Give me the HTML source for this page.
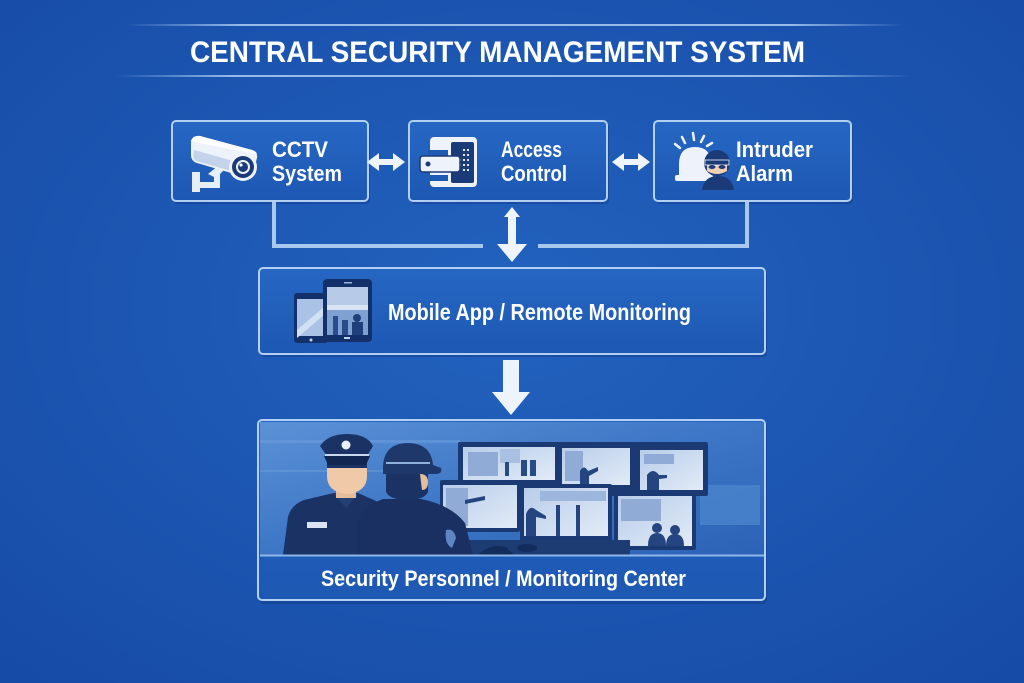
<!DOCTYPE html>
<html><head><meta charset="utf-8">
<style>
html,body{margin:0;padding:0;background:#1a54b0;}
svg{display:block;}
text{font-family:"Liberation Sans",sans-serif;font-weight:bold;fill:#ffffff;}
</style></head><body>
<svg width="1024" height="683" viewBox="0 0 1024 683" xmlns="http://www.w3.org/2000/svg">
<defs>
<radialGradient id="bg" cx="50%" cy="45%" r="75%">
 <stop offset="0" stop-color="#2262be"/>
 <stop offset="1" stop-color="#164ba6"/>
</radialGradient>
<linearGradient id="ln" x1="0" x2="1">
 <stop offset="0" stop-color="#a6c8f0" stop-opacity="0"/>
 <stop offset="0.15" stop-color="#a6c8f0" stop-opacity="0.9"/>
 <stop offset="0.85" stop-color="#a6c8f0" stop-opacity="0.9"/>
 <stop offset="1" stop-color="#a6c8f0" stop-opacity="0"/>
</linearGradient>
<linearGradient id="bx" x1="0" y1="0" x2="0" y2="1">
 <stop offset="0" stop-color="#2667c3"/>
 <stop offset="1" stop-color="#1d58b3"/>
</linearGradient>
<linearGradient id="scene" x1="0" y1="0" x2="1" y2="1">
 <stop offset="0" stop-color="#5b91d6"/>
 <stop offset="0.5" stop-color="#3d76c6"/>
 <stop offset="1" stop-color="#2b62b6"/>
</linearGradient>
<linearGradient id="scr" x1="0" y1="0" x2="1" y2="1">
 <stop offset="0" stop-color="#b8cdea"/>
 <stop offset="1" stop-color="#e2ebf7"/>
</linearGradient>
<clipPath id="sc"><rect x="260" y="422" width="504" height="133"/></clipPath>
</defs>

<rect width="1024" height="683" fill="url(#bg)"/>

<!-- Title -->
<rect x="125" y="24" width="780" height="2" fill="url(#ln)"/>
<rect x="115" y="75" width="795" height="2" fill="url(#ln)"/>
<text x="190" y="62" font-size="30" textLength="615" lengthAdjust="spacingAndGlyphs">CENTRAL SECURITY MANAGEMENT SYSTEM</text>

<!-- shadows -->
<g fill="#0f3a86" opacity="0.45">
<rect x="174" y="124" width="196" height="80" rx="4"/>
<rect x="411" y="124" width="198" height="80" rx="4"/>
<rect x="656" y="124" width="197" height="80" rx="4"/>
<rect x="261" y="271" width="506" height="86" rx="4"/>
<rect x="260" y="423" width="507" height="181" rx="4"/>
</g>

<!-- Top boxes -->
<rect x="172" y="121" width="196" height="80" rx="4" fill="url(#bx)" stroke="#b3d0f2" stroke-width="2"/>
<rect x="409" y="121" width="198" height="80" rx="4" fill="url(#bx)" stroke="#b3d0f2" stroke-width="2"/>
<rect x="654" y="121" width="197" height="80" rx="4" fill="url(#bx)" stroke="#b3d0f2" stroke-width="2"/>

<text x="272" y="157" font-size="22" textLength="56" lengthAdjust="spacingAndGlyphs">CCTV</text>
<text x="272" y="181" font-size="22" textLength="70" lengthAdjust="spacingAndGlyphs">System</text>
<text x="501" y="157" font-size="22" textLength="61" lengthAdjust="spacingAndGlyphs">Access</text>
<text x="501" y="181" font-size="22" textLength="66" lengthAdjust="spacingAndGlyphs">Control</text>
<text x="736" y="157" font-size="22" textLength="77" lengthAdjust="spacingAndGlyphs">Intruder</text>
<text x="736" y="181" font-size="22" textLength="57" lengthAdjust="spacingAndGlyphs">Alarm</text>

<!-- CCTV icon -->
<g>
 <path d="M192 172 h8 v10 h14 v-10 h6 v16 h-20 v4 h-8 z" fill="#e6eef9"/>
 <path d="M208 174 l10 -8 l6 4 l-8 8 z" fill="#e6eef9"/>
 <path d="M191 141 q2 -6 9 -5 l52 14 q6 2 5 8 l-4 14 q-2 6 -8 5 l-48 -14 q-6 -2 -6 -8 z" fill="#eef3fb"/>
 <path d="M194 150 l50 14 l-2 10 l-46 -13 q-4 -2 -2 -11 z" fill="#c3d3ea"/>
 <path d="M191 141 q2 -6 9 -5 l52 14 q4 1 5 4 l-58 -11 z" fill="#ffffff"/>
 <circle cx="243" cy="167" r="14" fill="#eef3fb"/>
 <circle cx="243" cy="167" r="11" fill="#1b3a78"/>
 <circle cx="243" cy="167" r="7" fill="#eef3fb"/>
 <circle cx="243" cy="167" r="5" fill="#1b3a78"/>
 <circle cx="241" cy="165" r="1.6" fill="#ffffff"/>
</g>

<!-- Access icon -->
<g>
 <rect x="430" y="137" width="47" height="50" rx="4" fill="#eef3fb"/>
 <rect x="451" y="142" width="23" height="41" rx="2" fill="#1b3a78"/>
 <g fill="#dfe8f6">
  <rect x="463" y="149" width="2" height="2"/><rect x="467" y="149" width="2" height="2"/>
  <rect x="463" y="154" width="2" height="2"/><rect x="467" y="154" width="2" height="2"/>
  <rect x="459" y="159" width="2" height="2"/><rect x="463" y="159" width="2" height="2"/><rect x="467" y="159" width="2" height="2"/>
  <rect x="459" y="164" width="2" height="2"/><rect x="463" y="164" width="2" height="2"/><rect x="467" y="164" width="2" height="2"/>
  <rect x="463" y="169" width="2" height="2"/><rect x="467" y="169" width="2" height="2"/>
 </g>
 <rect x="428" y="150" width="20" height="6" fill="#1d5ab4"/>
 <rect x="420" y="156" width="40" height="16" rx="3" fill="#eef3fb" stroke="#1b3a78" stroke-width="1.5"/>
 <circle cx="428" cy="164" r="2.5" fill="#1b3a78"/>
 <rect x="430" y="175" width="18" height="6" fill="#1d5ab4"/>
</g>

<!-- Intruder icon -->
<g>
 <g stroke="#eef3fb" stroke-width="2.5" stroke-linecap="round">
  <line x1="693" y1="133" x2="694" y2="140"/>
  <line x1="682" y1="137" x2="685" y2="143"/>
  <line x1="675" y1="144" x2="680" y2="148"/>
  <line x1="704" y1="136" x2="701" y2="142"/>
  <line x1="712" y1="143" x2="707" y2="146"/>
 </g>
 <path d="M679 176 v-12 q0 -17 16 -17 q16 0 16 17 v12 z" fill="#eef3fb"/>
 <rect x="675" y="175" width="38" height="6" rx="2" fill="#eef3fb"/>
 <path d="M702 190 q2 -14 16 -14 q14 0 16 14 z" fill="#1b3a78"/>
 <circle cx="717" cy="163" r="13" fill="#1b3a78"/>
 <path d="M707 165 q10 -4 20 0 v6 q-10 6 -20 0 z" fill="#f0d0b4"/>
 <rect x="705" y="160" width="24" height="5" fill="#1b3a78" stroke="#eef3fb" stroke-width="0.8"/>
 <ellipse cx="712" cy="167" rx="3.5" ry="2" fill="#1b3a78"/>
 <ellipse cx="722" cy="167" rx="3.5" ry="2" fill="#1b3a78"/>
</g>

<!-- Horizontal double arrows -->
<g fill="#eef4fc">
 <path d="M367 162 l12 -9 v6 h14 v-6 l12 9 l-12 9 v-6 h-14 v6 z"/>
 <path d="M612 162 l12 -9 v6 h14 v-6 l12 9 l-12 9 v-6 h-14 v6 z"/>
</g>

<!-- Connectors -->
<g fill="none" stroke="#a9c8ee" stroke-width="4">
 <polyline points="274,202 274,246 483,246"/>
 <polyline points="747,202 747,246 538,246"/>
</g>
<path d="M512 207 l8 10 h-4 v27 h11 l-15 18 l-15 -18 h11 v-27 h-4 z" fill="#eef4fc"/>

<!-- Mobile box -->
<rect x="259" y="268" width="506" height="86" rx="4" fill="url(#bx)" stroke="#b3d0f2" stroke-width="2"/>
<g>
 <rect x="294" y="293" width="34" height="50" rx="3" fill="#14306a"/>
 <rect x="297" y="299" width="28" height="37" fill="#a9c2e6"/>
 <path d="M297 330 l28 -24 v8 l-28 24 z" fill="#d2e0f3"/>
 <circle cx="311" cy="340" r="1.5" fill="#c0d2ec"/>
 <rect x="323" y="279" width="49" height="63" rx="4" fill="#14306a"/>
 <rect x="327" y="287" width="41" height="48" fill="#7fa1d2"/>
 <rect x="327" y="287" width="41" height="18" fill="#b7cbe9"/>
 <rect x="327" y="305" width="41" height="5" fill="#d8e4f3"/>
 <rect x="333" y="316" width="5" height="19" fill="#2b4c8a"/>
 <rect x="342" y="320" width="6" height="15" fill="#2b4c8a"/>
 <circle cx="357" cy="318" r="4" fill="#1f3f7a"/>
 <rect x="352" y="322" width="11" height="13" fill="#1f3f7a"/>
 <rect x="344" y="282" width="8" height="1.5" fill="#9ab4dc"/>
 <rect x="344" y="337" width="6" height="2" fill="#c0d2ec"/>
</g>
<text x="388" y="320" font-size="23" textLength="303" lengthAdjust="spacingAndGlyphs">Mobile App / Remote Monitoring</text>

<!-- Down arrow -->
<path d="M503 360 h16 v32 h11 l-19 23 l-19 -23 h11 z" fill="#eef4fc"/>

<!-- Bottom box -->
<rect x="258" y="420" width="507" height="180" rx="4" fill="url(#bx)" stroke="#b3d0f2" stroke-width="2"/>
<g clip-path="url(#sc)">
 <rect x="260" y="422" width="504" height="133" fill="url(#scene)"/>
 <rect x="260" y="440" width="200" height="3" fill="#6b9ddc" opacity="0.6"/>
 <rect x="260" y="470" width="180" height="2" fill="#6b9ddc" opacity="0.5"/>
 <rect x="700" y="485" width="60" height="40" fill="#4a84cc" opacity="0.8"/>
 <!-- top row monitors -->
 <rect x="458" y="442" width="250" height="54" rx="2" fill="#1b3a74"/>
 <rect x="463" y="447" width="92" height="33" fill="url(#scr)"/>
 <rect x="468" y="452" width="30" height="24" fill="#8fabd6"/>
 <rect x="500" y="449" width="20" height="14" fill="#a9c0e2"/>
 <rect x="505" y="462" width="4" height="14" fill="#2a4a84"/>
 <rect x="521" y="460" width="6" height="16" fill="#2a4a84"/>
 <rect x="530" y="460" width="6" height="16" fill="#2a4a84"/>
 <rect x="562" y="448" width="68" height="37" fill="url(#scr)"/>
 <rect x="565" y="451" width="18" height="30" fill="#8fabd6"/>
 <path d="M580 485 v-14 q4 -7 8 0 l10 -4 v4 l-9 5 v9 z" fill="#24457f"/>
 <rect x="640" y="450" width="63" height="40" fill="url(#scr)"/>
 <rect x="644" y="454" width="30" height="10" fill="#8fabd6"/>
 <path d="M647 490 v-15 q6 -8 12 0 l8 0 v3 l-8 1 v11 z" fill="#24457f"/>
 <!-- bottom row monitors -->
 <rect x="440" y="480" width="80" height="52" rx="2" fill="#1b3a74"/>
 <rect x="443" y="485" width="74" height="43" fill="url(#scr)"/>
 <rect x="446" y="488" width="22" height="38" fill="#8fabd6"/>
 <path d="M465 500 l20 -4 v4 l-20 4 z" fill="#24457f"/>
 <rect x="520" y="484" width="92" height="57" rx="2" fill="#1b3a74"/>
 <rect x="524" y="488" width="84" height="48" fill="url(#scr)"/>
 <rect x="540" y="491" width="66" height="10" fill="#9db6de"/>
 <path d="M526 536 v-22 q4 -10 10 -4 l10 6 v3 l-10 -2 v19 z" fill="#24457f"/>
 <rect x="556" y="505" width="4" height="31" fill="#24457f"/>
 <rect x="576" y="505" width="4" height="31" fill="#24457f"/>
 <rect x="614" y="492" width="82" height="58" rx="2" fill="#1b3a74"/>
 <rect x="618" y="496" width="74" height="50" fill="url(#scr)"/>
 <rect x="621" y="499" width="40" height="22" fill="#8fabd6"/>
 <circle cx="657" cy="528" r="5" fill="#24457f"/>
 <path d="M648 546 q0 -13 9 -13 q9 0 9 13 z" fill="#24457f"/>
 <circle cx="675" cy="530" r="5" fill="#24457f"/>
 <path d="M666 546 q0 -12 9 -12 q9 0 9 12 z" fill="#24457f"/>
 <!-- desk -->
 <rect x="440" y="540" width="190" height="15" fill="#1d3c74"/>
 <path d="M478 555 q12 -12 28 -8 l8 8 z" fill="#142c5c"/>
 <ellipse cx="527" cy="548" rx="10" ry="4" fill="#142c5c"/>
 <!-- officer 1 -->
 <path d="M283 555 l5 -38 q3 -12 16 -17 l30 -7 h24 l18 8 q8 6 4 20 v34 z" fill="#1b3264"/>
 <path d="M334 494 l12 14 l12 -14 z" fill="#243f76"/>
 <rect x="307" y="522" width="20" height="6" fill="#dbe4f2"/>
 <rect x="336" y="486" width="20" height="12" fill="#e6bd9c"/>
 <path d="M327 462 h40 v14 q0 16 -20 18 q-20 -2 -20 -18 z" fill="#f0caa8"/>
 <path d="M327 462 h40 v6 h-40 z" fill="#1b3264"/>
 <path d="M320 446 q8 -12 27 -12 q20 0 26 12 l-6 10 h-40 z" fill="#1b3264"/>
 <rect x="325" y="454" width="44" height="2" fill="#c9d8ee"/>
 <path d="M324 456 h46 l-4 9 h-38 z" fill="#122652"/>
 <circle cx="346" cy="445" r="4.5" fill="#e6eef9"/>
 <!-- officer 2 -->
 <path d="M357 555 v-30 q4 -18 26 -26 h38 q30 6 44 24 l8 32 z" fill="#1a3062"/>
 <path d="M446 530 q8 -2 10 8 l-4 10 q-8 -4 -6 -18 z" fill="#5f86c2"/>
 <path d="M386 470 h42 v22 q-4 8 -20 8 q-18 0 -22 -8 z" fill="#1b3264"/>
 <path d="M420 474 q8 0 8 8 q0 8 -6 8 z" fill="#e6bd9c"/>
 <path d="M383 468 q0 -24 24 -25 q24 0 26 22 l8 3 q2 6 -6 6 h-52 z" fill="#1e386c"/>
 <rect x="386" y="462" width="44" height="2" fill="#8fb0dc"/>
</g>
<line x1="260" y1="555.5" x2="764" y2="555.5" stroke="#8fb6e8" stroke-width="2"/>
<text x="321" y="586" font-size="22" textLength="365" lengthAdjust="spacingAndGlyphs">Security Personnel / Monitoring Center</text>
</svg>
</body></html>
